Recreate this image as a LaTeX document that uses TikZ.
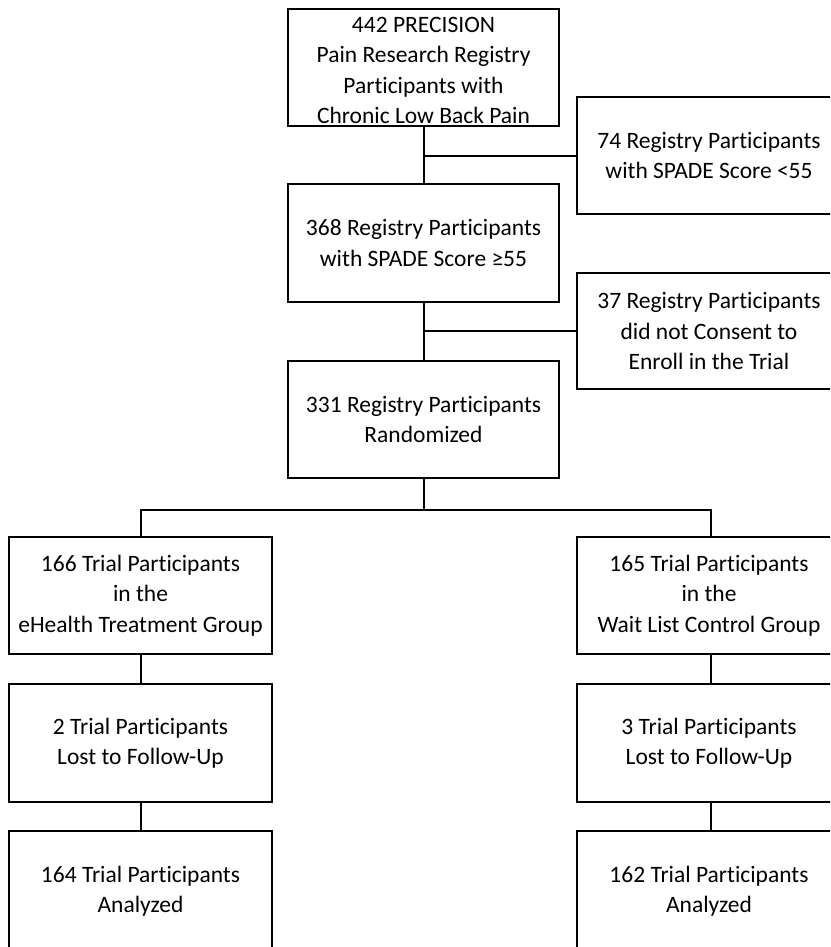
\documentclass[tikz,border=0pt]{standalone}
\usepackage{fontspec}
\setmainfont{Carlito}
\newcommand\Ptc{Part\kern0pt icipants}
\begin{document}
\begin{tikzpicture}[x=1pt,y=-1pt,
  box/.style={draw, line width=2pt, align=center, inner sep=0pt,
    font=\fontsize{23.5}{30.5}\selectfont},
  wide/.style={box, minimum width=271pt},
  col/.style={box, minimum width=264pt},
  link/.style={line width=2pt}]
\useasboundingbox (0,0) rectangle (830,947);
\clip (0,0) rectangle (830,947);
\fill[white] (0,0) rectangle (830,947);

\node[wide, minimum height=117pt] (top) at (423.5,67.5)
  {\rule{0pt}{21pt}442 PRECISION\\Pain Research Registry\\\Ptc{} with\\Chronic Low Back Pain};
\node[wide, minimum height=118pt] (b368) at (423.5,243)
  {368 Registry \Ptc\\with SPADE Score ≥55};
\node[wide, minimum height=117pt] (b331) at (423.5,419.5)
  {331 Registry \Ptc\\Randomized};

\node[col, minimum height=117pt] (r74) at (709,155.5)
  {74 Registry \Ptc\\with SPADE Score <55};
\node[col, minimum height=116pt] (r37) at (709,331)
  {37 Registry \Ptc\\did not Consent to\\Enroll in the Trial};

\node[box, minimum width=263pt, minimum height=117pt] (g1) at (140.5,595.5)
  {166 Trial \Ptc\\in the\\eHealth Treatment Group};
\node[col, minimum height=117pt] (g2) at (709,595.5)
  {165 Trial \Ptc\\in the\\Wait List Control Group};

\node[box, minimum width=263pt, minimum height=118pt] (l1) at (140.5,743)
  {2 Trial \Ptc\\Lost to Follow-Up};
\node[col, minimum height=118pt] (l2) at (709,743)
  {3 Trial \Ptc\\Lost to Follow-Up};

\node[box, minimum width=263pt, minimum height=120pt] (a1) at (140.5,891)
  {164 Trial \Ptc\\Analyzed};
\node[col, minimum height=120pt] (a2) at (709,891)
  {162 Trial \Ptc\\Analyzed};

\coordinate (j1) at (top.south |- r74.west);
\coordinate (j2) at (b368.south |- r37.west);
\coordinate (sp) at (423.5,510);
\coordinate (spl) at (g1.north |- sp);
\coordinate (spr) at ([xshift=2pt]g2.north |- sp);

\draw[link] (top.south) -- (b368.north);
\draw[link] (j1) -- (r74.west);
\draw[link] (b368.south) -- (b331.north);
\draw[link] (j2) -- (r37.west);
\draw[link] (b331.south) -- (sp);
\draw[link] (g1.north) -- (spl) -- (spr) -- ([xshift=2pt]g2.north);
\draw[link] (g1.south) -- (l1.north);
\draw[link] (l1.south) -- (a1.north);
\draw[link] ([xshift=2pt]g2.south) -- ([xshift=2pt]l2.north);
\draw[link] ([xshift=2pt]l2.south) -- ([xshift=2pt]a2.north);
\end{tikzpicture}
\end{document}
